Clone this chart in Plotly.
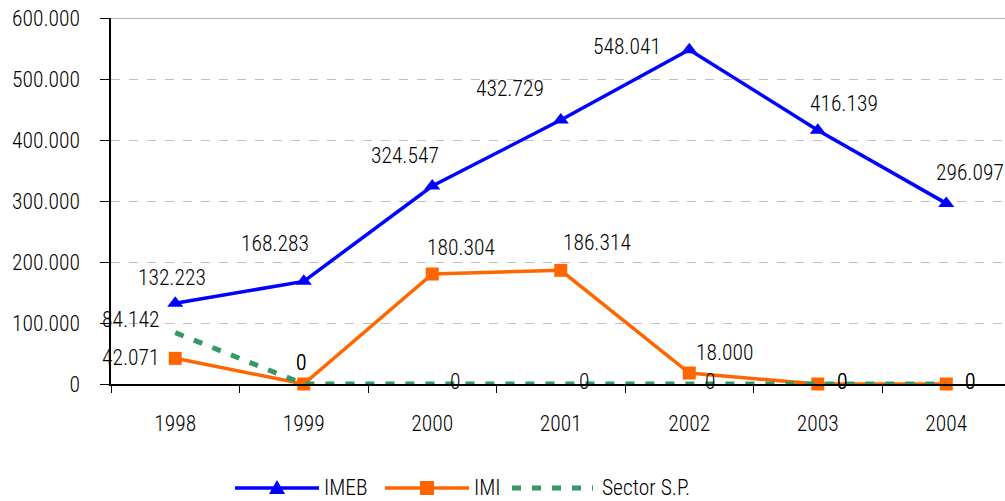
import plotly.graph_objects as go

years = ["1998", "1999", "2000", "2001", "2002", "2003", "2004"]
imeb = [132223, 168283, 324547, 432729, 548041, 416139, 296097]
imi = [42071, 0, 180304, 186314, 18000, 0, 0]
sector = [84142, 0, 0, 0, 0, 0, 0]
y_ticks = [0, 100000, 200000, 300000, 400000, 500000, 600000]

# label offsets (px): (xshift, yshift)
imeb_off = [(-3, 26), (-29, 38), (-27, 31), (-51, 32), (-62, 3), (26, 27), (24, 31)]
imi_off = [(-45, 1), (-3, 22), (29, 27), (36, 28), (35, 21), (24, 3), (24, 3)]
sec_off = [(-45, 13), (-3, 22), (23, 3), (23, 3), (21, 3), (24, 3), (24, 3)]

FONT = "Roboto Condensed, Archivo Narrow, PT Sans Narrow, sans-serif"
FS = 21.5
FW = 300

W, H = 1005, 501
L, R, T, B = 111, 0, 18, 117
PW, PH = W - L - R, H - T - B


def fmt(v):
    return f"{v:,}".replace(",", ".")


def fnt(size=FS):
    return dict(family=FONT, size=size, color="#000", weight=FW)


fig = go.Figure()
fig.add_trace(go.Scatter(x=years, y=imeb, mode="lines+markers", name="IMEB",
                         line=dict(color="#0000FF", width=3.5),
                         marker=dict(symbol="triangle-up", size=14, color="#0000FF"),
                         showlegend=False, cliponaxis=False))
fig.add_trace(go.Scatter(x=years, y=imi, mode="lines+markers", name="IMI",
                         line=dict(color="#FF6600", width=3.5),
                         marker=dict(symbol="square", size=13, color="#FF6600"),
                         showlegend=False, cliponaxis=False))
fig.add_trace(go.Scatter(x=years, y=sector, mode="lines", name="Sector S.P.",
                         line=dict(color="#339966", width=5, dash="9px,11px"),
                         showlegend=False, cliponaxis=False))

anns = []
for vals, offs in ((imeb, imeb_off), (imi, imi_off), (sector, sec_off)):
    for i, (v, (dx, dy)) in enumerate(zip(vals, offs)):
        anns.append(dict(x=i, y=v, xref="x", yref="y", text=fmt(v), showarrow=False,
                         xshift=dx, yshift=dy, font=fnt()))


def px(xp):
    return (xp - L) / PW


def py(yp):
    return (H - B - yp) / PH


shapes = []
shapes.append(dict(type="line", xref="paper", yref="y", x0=0, x1=1, y0=600000, y1=600000,
                   line=dict(color="#9A9A9A", width=1.5)))

LY = 488
shapes.append(dict(type="line", xref="paper", yref="paper", x0=px(235), x1=px(319), y0=py(LY), y1=py(LY),
                   line=dict(color="#0000FF", width=3.5)))
cx = 277
shapes.append(dict(type="path", xref="paper", yref="paper",
                   path=f"M {px(cx-8)} {py(LY+6)} L {px(cx+8)} {py(LY+6)} L {px(cx)} {py(LY-8)} Z",
                   fillcolor="#0000FF", line=dict(width=0)))
shapes.append(dict(type="line", xref="paper", yref="paper", x0=px(385), x1=px(469), y0=py(LY), y1=py(LY),
                   line=dict(color="#FF6600", width=3.5)))
cx = 427
shapes.append(dict(type="rect", xref="paper", yref="paper", x0=px(cx-7), x1=px(cx+7), y0=py(LY+7), y1=py(LY-7),
                   fillcolor="#FF6600", line=dict(width=0)))
shapes.append(dict(type="line", xref="paper", yref="paper", x0=px(512), x1=px(593), y0=py(LY), y1=py(LY),
                   line=dict(color="#339966", width=5, dash="9px,11px")))
for name, xs in (("IMEB", 322), ("IMI", 472), ("Sector S.P.", 600)):
    anns.append(dict(x=px(xs), y=py(LY), xref="paper", yref="paper", text=name, showarrow=False,
                     xanchor="left", yanchor="middle", font=fnt()))

fig.update_layout(
    width=W, height=H,
    margin=dict(l=L, r=R, t=T, b=B, pad=0),
    paper_bgcolor="white", plot_bgcolor="white",
    separators=",.",
    font=fnt(),
    showlegend=False,
    annotations=anns, shapes=shapes,
    xaxis=dict(type="category", range=[-0.5, 6.457], tickson="boundaries",
               ticks="outside", ticklen=7, tickcolor="#000", tickwidth=1,
               showline=True, linecolor="#000", linewidth=1.5, showgrid=False,
               ticklabelstandoff=19, tickfont=fnt()),
    yaxis=dict(range=[0, 600000], tickvals=y_ticks, tickformat=",d",
               ticks="outside", ticklen=9, tickcolor="#000", tickwidth=1,
               showline=True, linecolor="#000", linewidth=1.5,
               showgrid=True, gridcolor="#BFBFBF", gridwidth=1, griddash="dash",
               zeroline=False, ticklabelstandoff=16, tickfont=fnt()),
)

fig.write_html("out.html", post_script="document.body.style.margin='0';",
               config={"displayModeBar": False})
